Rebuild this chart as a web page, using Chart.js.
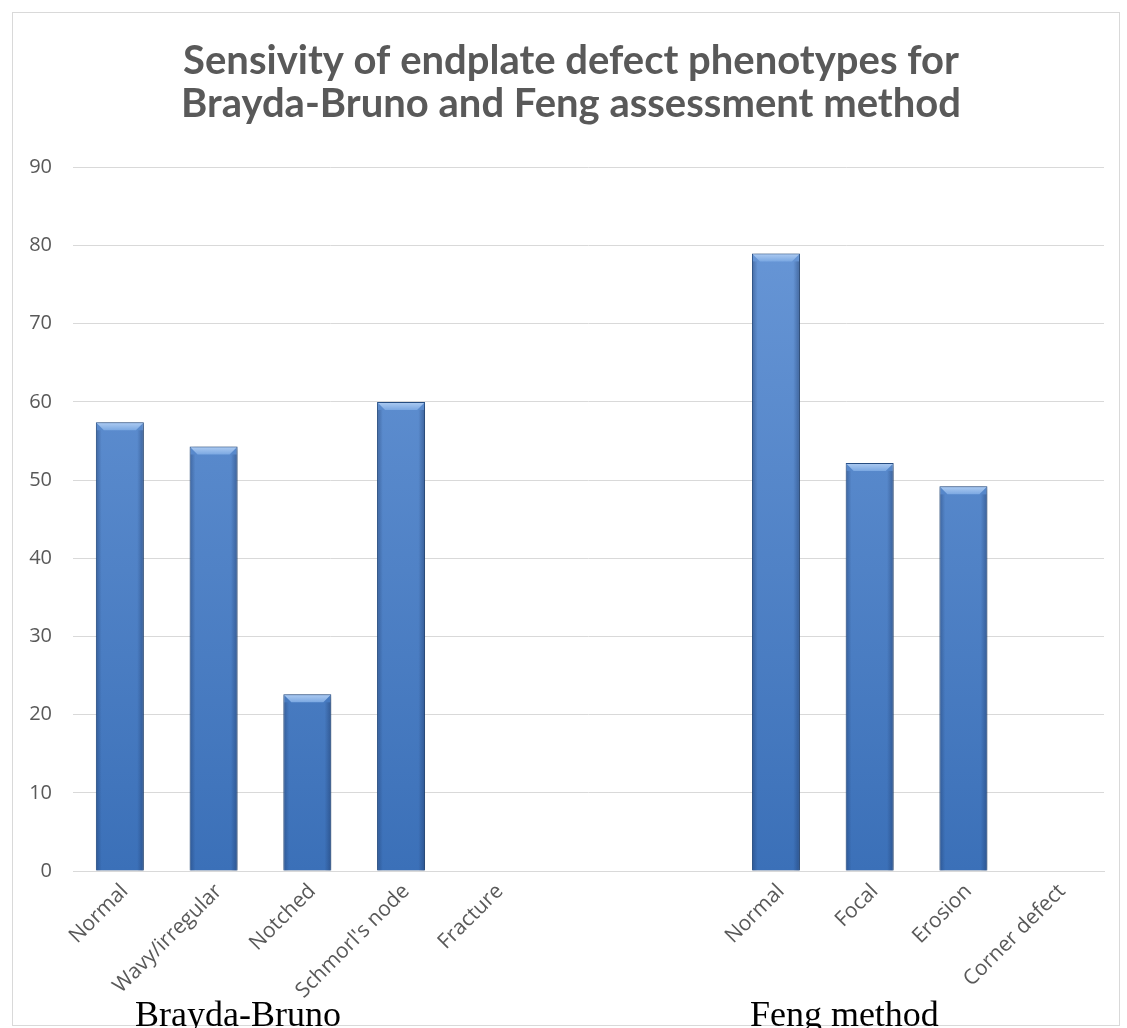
<!DOCTYPE html>
<html>
<head>
<meta charset="utf-8">
<script src="https://cdn.jsdelivr.net/npm/chart.js@4.4.1/dist/chart.umd.min.js"></script>
<style>
  html, body { margin: 0; padding: 0; background: #ffffff; }
  #wrap { width: 1127px; height: 1028px; position: relative; }
</style>
</head>
<body>
<div id="wrap"><canvas id="sensChart"></canvas></div>
<script>
// Categories (two empty slots separate the two methods)
const categories = ['Normal', 'Wavy/irregular', 'Notched', "Schmorl's node", 'Fracture', '', '', 'Normal', 'Focal', 'Erosion', 'Corner defect'];
// Sensitivity values
const sensitivity = [57.4, 54.3, 22.6, 60, 0, null, null, 79, 52.2, 49.2, 0];
// Group names written under the axis
const groupNames = ['Brayda-Bruno', 'Feng method'];
const titleLines = ['Sensivity of endplate defect phenotypes for', 'Brayda-Bruno and Feng assessment method'];

const grey = '#595959';

// Vertical gradient for the bars
function barFill(context) {
    const chart = context.chart;
    const area = chart.chartArea;
    if (!area) return '#4f81bd';
    const g = chart.ctx.createLinearGradient(0, area.top, 0, area.bottom);
    g.addColorStop(0, '#6c9ad9');
    g.addColorStop(1, '#3b70b8');
    return g;
}

// Soft shadow behind the bars
const barShadow = {
    id: 'barShadow',
    beforeDatasetDraw: (chart) => {
        const ctx = chart.ctx;
        ctx.save();
        ctx.shadowColor = 'rgba(0,0,0,0.4)';
        ctx.shadowBlur = 6;
        ctx.shadowOffsetX = 1;
        ctx.shadowOffsetY = 1;
    },
    afterDatasetDraw: (chart) => {
        chart.ctx.restore();
    }
};

// Bevel on top of each bar plus darker side edges
const barBevel = {
    id: 'barBevel',
    afterDatasetsDraw: (chart) => {
        const ctx = chart.ctx;
        chart.getDatasetMeta(0).data.forEach((bar) => {
            const h = bar.base - bar.y;
            if (!(h > 2)) return;
            const left = bar.x - bar.width / 2;
            const right = bar.x + bar.width / 2;
            const top = bar.y;
            const b = 8;
            ctx.save();
            // top bevel
            const g = ctx.createLinearGradient(0, top, 0, top + b);
            g.addColorStop(0, '#b0cdf2');
            g.addColorStop(1, '#7ba8e2');
            ctx.beginPath();
            ctx.moveTo(left + 1, top + 1);
            ctx.lineTo(right - 1, top + 1);
            ctx.lineTo(right - b, top + b);
            ctx.lineTo(left + b, top + b);
            ctx.closePath();
            ctx.fillStyle = g;
            ctx.fill();
            // side shading
            const s = ctx.createLinearGradient(left, 0, right, 0);
            s.addColorStop(0, 'rgba(25,50,95,0.4)');
            s.addColorStop(0.12, 'rgba(25,50,95,0)');
            s.addColorStop(0.86, 'rgba(25,50,95,0)');
            s.addColorStop(1, 'rgba(25,50,95,0.45)');
            ctx.fillStyle = s;
            ctx.fillRect(left + 1, top + b, right - left - 2, h - b);
            ctx.restore();
        });
    }
};

// Outer border of the chart and the two group names below the axis
const frameAndGroups = {
    id: 'frameAndGroups',
    beforeDraw: (chart) => {
        const ctx = chart.ctx;
        ctx.save();
        ctx.strokeStyle = '#d9d9d9';
        ctx.lineWidth = 1;
        ctx.strokeRect(12.5, 12.5, 1107, 1013);
        ctx.restore();
    },
    afterDraw: (chart) => {
        const ctx = chart.ctx;
        const xs = chart.scales.x;
        const step = xs.getPixelForValue(1) - xs.getPixelForValue(0);
        const centers = [xs.getPixelForValue(1) + step * 0.26, xs.getPixelForValue(7) + step * 0.73];
        ctx.save();
        ctx.font = '36px "Liberation Serif", "Times New Roman", serif';
        ctx.fillStyle = '#000000';
        ctx.textAlign = 'center';
        ctx.textBaseline = 'alphabetic';
        groupNames.forEach((name, i) => {
            ctx.fillText(name, centers[i], 1026);
        });
        ctx.restore();
    }
};

new Chart(document.getElementById('sensChart'), {
    type: 'bar',
    data: {
        labels: categories,
        datasets: [{
            data: sensitivity,
            backgroundColor: barFill,
            borderColor: '#2c5894',
            borderWidth: 1,
            borderSkipped: 'bottom',
            barPercentage: 0.512,
            categoryPercentage: 1
        }]
    },
    options: {
        responsive: true,
        maintainAspectRatio: false,
        animation: false,
        layout: { padding: { top: 20, left: 15, right: 0, bottom: 0 } },
        plugins: {
            legend: { display: false },
            tooltip: { enabled: false },
            title: {
                display: true,
                text: titleLines,
                color: grey,
                font: { family: 'Lato', size: 40, weight: 'bold', lineHeight: 1.08 },
                padding: { top: 19, bottom: 42 }
            }
        },
        scales: {
            x: {
                grid: { display: false },
                border: { display: true, color: '#d9d9d9', width: 1 },
                ticks: {
                    color: grey,
                    font: { family: 'Open Sans', size: 21 },
                    autoSkip: false,
                    maxRotation: 45,
                    minRotation: 45,
                    padding: 0,
                    labelOffset: 5
                },
                afterFit: (scale) => {
                    scale.height = 157;
                    scale.paddingRight = 23;
                }
            },
            y: {
                min: 0,
                max: 90,
                grid: { color: '#d9d9d9', lineWidth: 1, drawTicks: false },
                border: { display: false },
                ticks: {
                    stepSize: 10,
                    color: grey,
                    font: { family: 'Open Sans', size: 20 },
                    padding: 21
                },
                afterFit: (scale) => { scale.width = 58; }
            }
        }
    },
    plugins: [barShadow, barBevel, frameAndGroups]
});
</script>
</body>
</html>
